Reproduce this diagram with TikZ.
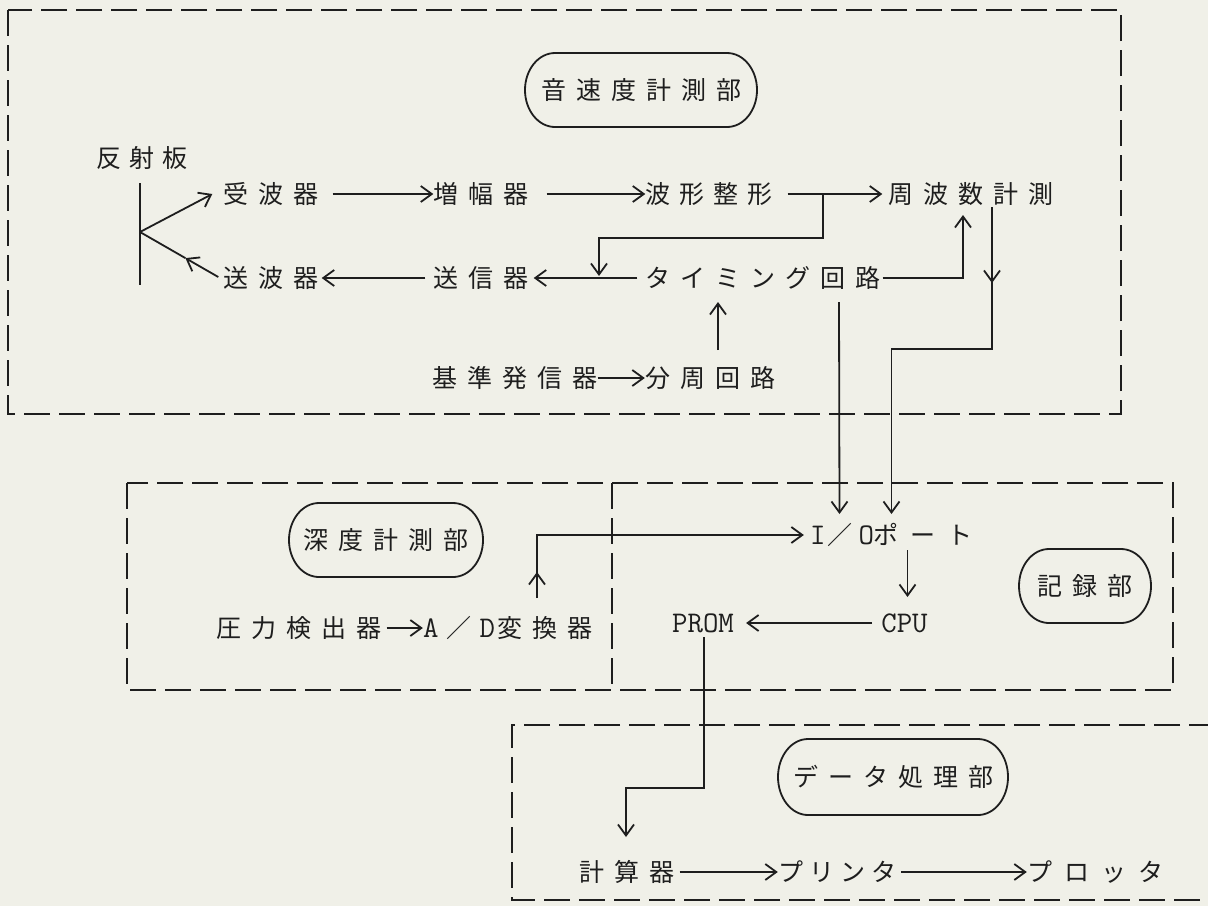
\documentclass[tikz,border=0pt]{standalone}
\usepackage{fontspec}
\newfontfamily\jpf{Noto Sans CJK JP}
\usetikzlibrary{arrows.meta,calc}
\definecolor{paper}{RGB}{240,240,232}
\definecolor{ink}{RGB}{30,30,30}
\makeatletter
\newcommand\lsp[2][10pt]{\def\lsp@sep{}\@tfor\lsp@c:=#2\do{\lsp@sep\lsp@c\def\lsp@sep{\kern#1\relax}}}
\makeatother
\newcommand\mn[1]{{\ttfamily\fontsize{30pt}{30pt}\selectfont #1}}
\newcommand\capsulebox[3]{\draw[capline] ($(#1)+(-#2+30,-#3)$) -- ($(#1)+(#2-30,-#3)$) arc[start angle=90,end angle=-90,x radius=30pt,y radius=#3pt] -- ($(#1)+(-#2+30,#3)$) arc[start angle=270,end angle=90,x radius=30pt,y radius=#3pt] -- cycle;}
\tikzset{
  lab/.style={font=\jpf\fontsize{25pt}{30pt}\selectfont, inner sep=0pt, text=ink},
  line/.style={draw=ink, line width=1.8pt},
  arr/.style={line, -{Straight Barb[length=11pt,width=16pt]}},
  capline/.style={draw=ink, line width=1.8pt},
  dashbox/.style={draw=ink, line width=2pt, dash pattern=on 26pt off 9pt},
}
\begin{document}
\begin{tikzpicture}[x=1pt,y=-1pt]
\fill[paper] (0,0) rectangle (1208,906);
\useasboundingbox (0,0) rectangle (1208,906);

% ---- dashed group boxes
\draw[dashbox] (8,10) rectangle (1121,414);
\draw[dashbox] (127,483) rectangle (1173,690);
\draw[dashbox] (612,483) -- (612,690);
\draw[dashbox] (1215,725) -- (512,725) -- (512,900) -- (1215,900);

% ---- section labels
\node[lab] (ousoku) at (641,90) {\lsp{音速度計測部}};
\capsulebox{ousoku}{116}{37}
\node[lab] (shindo) at (386,540) {\lsp{深度計測部}};
\capsulebox{shindo}{97}{37}
\node[lab] (kiroku) at (1085,586) {\lsp{記録部}};
\capsulebox{kiroku}{66}{37}
\node[lab] (dshori) at (893,777) {\lsp{データ処理部}};
\capsulebox{dshori}{115}{38}

% ---- sound speed section
\node[lab] (hansha) at (142,158) {\lsp[8pt]{反射板}};
\coordinate (rtop) at (140,183);
\coordinate (rbot) at (140,285);
\coordinate (rpt) at (140,232);
\draw[line] (rtop) -- (rbot);

\node[lab] (juha) at (271,194) {\lsp{受波器}};
\node[lab] (zouhuku) at (481,194) {\lsp{増幅器}};
\node[lab] (hakei) at (709,194) {\lsp[9pt]{波形整形}};
\node[lab] (shuha) at (971,194) {\lsp{周波数計測}};
\node[lab] (souha) at (271,278) {\lsp{送波器}};
\node[lab] (soushin) at (481,278) {\lsp{送信器}};
\node[lab] (timing) at (763,278) {\lsp{タイミング回路}};
\node[lab] (kijun) at (515,378) {\lsp{基準発信器}};
\node[lab] (bunshu) at (710,378) {\lsp{分周回路}};

\draw[arr] (rpt) -- ($(juha.west)+(-11,0)$);
\coordinate (sw) at ($(souha.west)+(-5,-1)$);
\coordinate (swm) at ($(sw)!0.42!(rpt)$);
\draw[arr] (sw) -- (swm);
\draw[line] (swm) -- (rpt);
\draw[arr] ($(juha.east)+(14,0)$) -- (zouhuku.west);
\draw[arr] ($(zouhuku.east)+(18,0)$) -- (hakei.west);
\draw[arr] ($(hakei.east)+(15,0)$) -- ($(shuha.west)+(-6,0)$);
\coordinate (br) at (823,194);
\coordinate (j1) at (599,276);
\draw[arr] (br) -- ++(0,44) -| (j1);
\draw[arr] ($(timing.west)+(-8,0)$) -- ($(soushin.east)+(5,0)$);
\draw[arr] ($(soushin.west)+(-8,0)$) -- ($(souha.east)+(3,0)$);
\draw[arr] ($(timing.east)+(2,0)$) -| ($(shuha.center)+(-8,21)$);
\draw[arr] (kijun.east) -- (bunshu.west);
\draw[arr] ($(bunshu.center)+(8,-28)$) -- ($(timing.center)+(-45,24)$);

% ---- recording section
\node[lab] (io) at (891.5,535) {\mn{I}\kern2pt／\kern6pt\mn{O}ポ\kern12pt ー\kern12pt ト};
\node[lab] (cpu) at (904.5,623) {\mn{CPU}};
\node[lab] (prom) at (703,623) {\mn{PROM}};

\draw[arr] ($(shuha.center)+(21,13)$) -- ($(shuha.center)+(21,89)$);
\draw[arr] ($(shuha.center)+(21,84)$) -- ($(shuha.center)+(21,155)$) -| ($(io.center)+(0,-21)$);
\draw[arr] ($(timing.center)+(76,24)$) -- ($(io.center)+(-52,-21)$);
\draw[arr] ($(io.center)+(16,15)$) -- ($(cpu.center)+(3,-26)$);
\draw[arr] ($(cpu.west)+(-9,0)$) -- ($(prom.east)+(12,0)$);

% ---- depth section
\node[lab] (atsu) at (299,628) {\lsp{圧力検出器}};
\node[lab] (ad) at (508,628) {\mn{A}\kern8pt／\kern8pt\mn{D}\kern3pt 変\kern10pt 換\kern10pt 器};
\draw[arr] ($(atsu.east)+(5,0)$) -- (ad.west);
\draw[arr] ($(ad.center)+(29,-30)$) -- ($(ad.center)+(29,-56)$);
\draw[arr] ($(ad.center)+(29,-52)$) |- ($(io.west)+(-6,0)$);

% ---- data processing section
\node[lab] (keisan) at (627,872) {\lsp{計算器}};
\node[lab] (printer) at (837,872) {\lsp[6pt]{プリンタ}};
\node[lab] (plotter) at (1095,872) {\lsp[12pt]{プロッタ}};
\draw[arr] ($(prom.center)+(1,14)$) -- ($(prom.center)+(1,165)$) -| ($(keisan.center)+(-1,-35)$);
\draw[arr] ($(keisan.east)+(5,0)$) -- (printer.west);
\draw[arr] ($(printer.east)+(5,0)$) -- (plotter.west);
\end{tikzpicture}
\end{document}
